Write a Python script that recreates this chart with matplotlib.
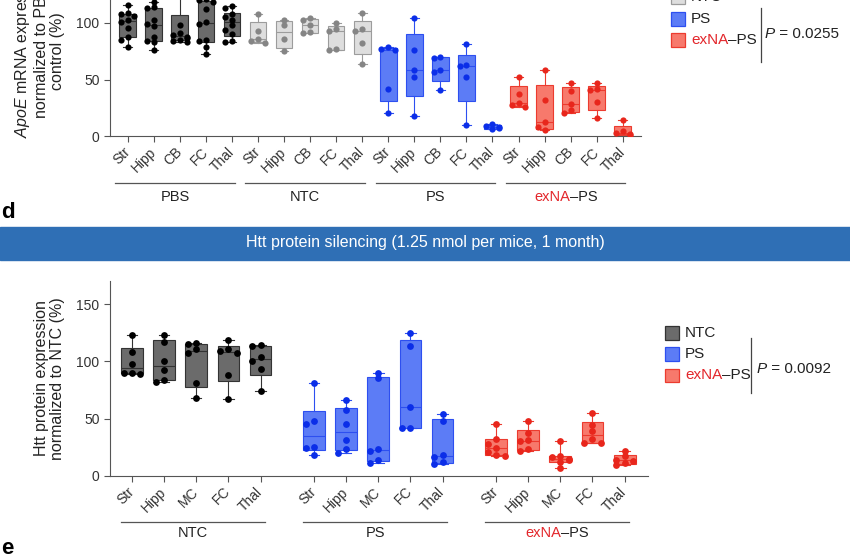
import numpy as np
import matplotlib
matplotlib.use("Agg")
import matplotlib.pyplot as plt
from matplotlib.offsetbox import TextArea, HPacker, AnnotationBbox
from matplotlib.patches import Rectangle

plt.rcParams["font.family"] = ["Liberation Sans", "DejaVu Sans"]
plt.rcParams["mathtext.fontset"] = "custom"
plt.rcParams["mathtext.rm"] = "Liberation Sans"
plt.rcParams["mathtext.it"] = "Liberation Sans:italic"

# --- panel c: ApoE mRNA (% of PBS) ---------------------------------------
regions_c = ["Str", "Hipp", "CB", "FC", "Thal"]
groups_c = ["PBS", "NTC", "PS", "exNA–PS"]
apoe_pbs = [[116, 109, 108, 106, 103, 101, 96, 88, 85, 79],
            [119, 114, 113, 103, 99, 97, 88, 84, 83, 76],
            [150, 135, 98, 91, 89, 88, 87, 85, 84, 83],
            [121, 120, 119, 112, 101, 99, 85, 84, 79, 73],
            [115, 113, 108, 105, 103, 98, 94, 90, 84, 83]]
apoe_ntc = [[108, 93, 86, 84, 82],
            [103, 98, 86, 75],
            [104, 103, 98, 92, 91],
            [100, 95, 93, 77, 76],
            [109, 95, 93, 82, 64]]
apoe_ps = [[79, 77, 76, 42, 20],
           [104, 76, 58, 52, 18],
           [70, 69, 58, 57, 41],
           [81, 63, 62, 52, 10],
           [11, 9, 8, 7, 6]]
apoe_exna = [[52, 37, 29, 27, 26],
             [58, 32, 12, 8, 5],
             [47, 40, 28, 23, 20],
             [47, 42, 41, 30, 16],
             [14, 4, 3, 2, 1]]
p_apoe = "0.0255"

# --- panel d: Htt protein (% of NTC) -------------------------------------
regions_d = ["Str", "Hipp", "MC", "FC", "Thal"]
groups_d = ["NTC", "PS", "exNA–PS"]
htt_ntc = [[123, 108, 98, 90, 90, 89],
           [123, 117, 100, 92, 84, 82],
           [116, 115, 111, 107, 81, 68],
           [119, 111, 109, 107, 88, 67],
           [114, 113, 104, 100, 93, 74]]
htt_ps = [[81, 48, 45, 25, 24, 18],
          [66, 57, 45, 31, 23, 20],
          [90, 85, 23, 22, 14, 11],
          [125, 113, 60, 42, 42],
          [54, 48, 18, 16, 12, 10]]
htt_exna = [[45, 32, 28, 24, 21, 18, 17],
            [48, 37, 31, 30, 23, 22],
            [30, 17, 16, 15, 14, 12, 7],
            [55, 44, 39, 32, 29, 29],
            [22, 17, 14, 13, 11, 9]]
p_htt = "0.0092"

RED_TXT = "#e3262b"
TXT = "#222222"
STYLE = {
    "dark": dict(face="#6b6b6b", edge="#333333", dot="#000000"),
    "light": dict(face="#dedede", edge="#9c9c9c", dot="#858585"),
    "blue": dict(face="#5c7cf6", edge="#2d4ff0", dot="#0b2ee8"),
    "red": dict(face="#f7796c", edge="#ec3b2f", dot="#e8261c"),
}

W, H = 850, 560
fig = plt.figure(figsize=(W / 100, H / 100), dpi=100)


def px_axes(left, top, right, bottom):
    return fig.add_axes([left / W, 1 - bottom / H, (right - left) / W, (bottom - top) / H])


def box_stats(vals):
    v = np.asarray(vals, float)
    q1, med, q3 = np.percentile(v, [25, 50, 75], method="weibull")
    return dict(med=med, q1=q1, q3=q3, whislo=v.min(), whishi=v.max(), fliers=[])


def swarm(vals, ypx, dot=5.0, slots=(0.0, -0.26, 0.26)):
    vals = np.asarray(vals, float)
    xs = np.zeros(len(vals))
    placed = []
    for i in np.argsort(vals)[::-1]:
        y = vals[i] * ypx
        chosen = slots[-1]
        for s in slots:
            if all(ps != s or abs(y - py) >= dot for ps, py in placed):
                chosen = s
                break
        xs[i] = chosen
        placed.append((chosen, y))
    return xs


def draw_group(ax, data, positions, st, ypx, width, capw, dot_s):
    stats = [box_stats(d) for d in data]
    ax.bxp(stats, positions=positions, widths=width, capwidths=capw,
           showfliers=False, patch_artist=True,
           boxprops=dict(facecolor=st["face"], edgecolor=st["edge"], linewidth=0.8),
           medianprops=dict(color=st["edge"], linewidth=0.8),
           whiskerprops=dict(color=st["edge"], linewidth=0.8),
           capprops=dict(color=st["edge"], linewidth=0.8), zorder=2)
    for p, d in zip(positions, data):
        off = swarm(d, ypx)
        ax.scatter(p + off, d, s=dot_s, color=st["dot"], zorder=3, linewidths=0)


def two_color(text_parts, xy, xycoords, ax_or_fig, align=(0.5, 0.5), size=10.5):
    kids = [TextArea(t, textprops=dict(color=c, size=size, style=s))
            for t, c, s in text_parts]
    box = HPacker(children=kids, pad=0, sep=0, align="baseline")
    ab = AnnotationBbox(box, xy, xycoords=xycoords, frameon=False,
                        box_alignment=align, pad=0, annotation_clip=False)
    ax_or_fig.add_artist(ab)


def style_axes(ax, yticks):
    for s in ("top", "right"):
        ax.spines[s].set_visible(False)
    for s in ("left", "bottom"):
        ax.spines[s].set_color("#555555")
        ax.spines[s].set_linewidth(0.8)
    ax.tick_params(colors="#555555", labelcolor="#333333", labelsize=10, length=4, width=0.8)
    ax.set_yticks(yticks)


def group_labels(ax, names, starts, ends, yline, ytext):
    tr = ax.get_xaxis_transform()
    for name, a, b in zip(names, starts, ends):
        ax.plot([a, b], [yline, yline], color="#555555", lw=0.9, transform=tr, clip_on=False)
        if name.startswith("exNA"):
            two_color([("exNA", RED_TXT, "normal"), ("–PS", TXT, "normal")],
                      ((a + b) / 2, ytext), tr, ax)
        else:
            ax.text((a + b) / 2, ytext, name, transform=tr, ha="center", va="center",
                    fontsize=10.5, color=TXT)


# ---------------- panel c ----------------
ax1 = px_axes(110, 136 - 150 * 1.13, 641, 136)
ypx1 = 1.13
c_sets = [(apoe_pbs, "dark"), (apoe_ntc, "light"), (apoe_ps, "blue"), (apoe_exna, "red")]
pos_c = []
for g, (data, key) in enumerate(c_sets):
    pos = [g * 5 + i for i in range(5)]
    pos_c += pos
    draw_group(ax1, data, pos, STYLE[key], ypx1, 0.64, 0.34, 20)
ax1.set_xlim(-0.68, 19.7)
ax1.set_ylim(0, 150)
style_axes(ax1, [0, 50, 100])
ax1.set_xticks(pos_c)
ax1.set_xticklabels(regions_c * 4, rotation=45, ha="right", va="center",
                    rotation_mode="anchor")
ax1.tick_params(axis="x", pad=6)
ax1.set_ylabel("$\\it{ApoE}$ mRNA expression\nnormalized to PBS\ncontrol (%)",
               fontsize=11.5, color=TXT, linespacing=1.1)
ax1.yaxis.set_label_coords(-0.085, 0.5)
group_labels(ax1, groups_c, [g * 5 - 0.48 for g in range(4)],
             [g * 5 + 4.1 for g in range(4)], -0.277, -0.36)

# ---------------- panel d ----------------
ax2 = px_axes(110, 475.7 - 170 * 1.144, 647.7, 475.7)
ypx2 = 1.144
d_sets = [(htt_ntc, "dark"), (htt_ps, "blue"), (htt_exna, "red")]
pos_d = []
gstep = 5.67
for g, (data, key) in enumerate(d_sets):
    pos = [g * gstep + i for i in range(5)]
    pos_d += pos
    draw_group(ax2, data, pos, STYLE[key], ypx2, 0.68, 0.32, 24)
ax2.set_xlim(-0.69, 16.06)
ax2.set_ylim(0, 170)
style_axes(ax2, [0, 50, 100, 150])
ax2.set_xticks(pos_d)
ax2.set_xticklabels(regions_d * 3, rotation=45, ha="right", va="center",
                    rotation_mode="anchor")
ax2.tick_params(axis="x", pad=6)
ax2.set_ylabel("Htt protein expression\nnormalized to NTC (%)", fontsize=11.5,
               color=TXT, linespacing=1.1)
ax2.yaxis.set_label_coords(-0.083, 0.5)
group_labels(ax2, groups_d, [g * gstep - 0.35 for g in range(3)],
             [g * gstep + 4.15 for g in range(3)], -0.2375, -0.296)

# ---------------- banner & panel letters ----------------
fig.patches.append(Rectangle((0, 1 - 260 / H), 1, (260 - 226.7) / H,
                             transform=fig.transFigure, color="#2f6fb5", zorder=0))
fig.text(0.5, 1 - 243 / H, "Htt protein silencing (1.25 nmol per mice, 1 month)",
         ha="center", va="center", color="white", fontsize=11.5)
fig.text(1 / W, 1 - 212 / H, "d", fontsize=16, fontweight="bold", va="center")
fig.text(1 / W, 1 - 548 / H, "e", fontsize=16, fontweight="bold", va="center")


# ---------------- legends ----------------
def legend(entries, x0, yc, step, sq, bar_x, bar_y, p_val, p_x, p_y):
    for i, (label, key) in enumerate(entries):
        y = yc + i * step
        st = STYLE[key]
        fig.patches.append(Rectangle((x0 / W, 1 - (y + sq / 2) / H), sq / W, sq / H,
                                     transform=fig.transFigure, facecolor=st["face"],
                                     edgecolor=st["edge"], lw=0.9))
        tx = (x0 + sq + 6.5) / W
        if label.startswith("exNA"):
            two_color([("exNA", RED_TXT, "normal"), ("–PS", TXT, "normal")],
                      (tx, 1 - y / H), "figure fraction", fig, align=(0, 0.5), size=11)
        else:
            fig.text(tx, 1 - y / H, label, va="center", fontsize=11, color=TXT)
    fig.add_artist(plt.Line2D([bar_x / W] * 2, [1 - bar_y[0] / H, 1 - bar_y[1] / H],
                              color="#444444", lw=0.9))
    two_color([("P", TXT, "italic"), (" = " + p_val, TXT, "normal")],
              (p_x / W, 1 - p_y / H), "figure fraction", fig, align=(0, 0.5), size=11)


legend([("PBS", "dark"), ("NTC", "light"), ("PS", "blue"), ("exNA–PS", "red")],
       670.7, -23.9, 21.3, 14, 760.7, (8, 62), p_apoe, 765, 34)
legend([("NTC", "dark"), ("PS", "blue"), ("exNA–PS", "red")],
       665, 333, 21.2, 13.5, 750.7, (338, 393), p_htt, 756.7, 369)

fig.savefig("out.png", dpi=100)
